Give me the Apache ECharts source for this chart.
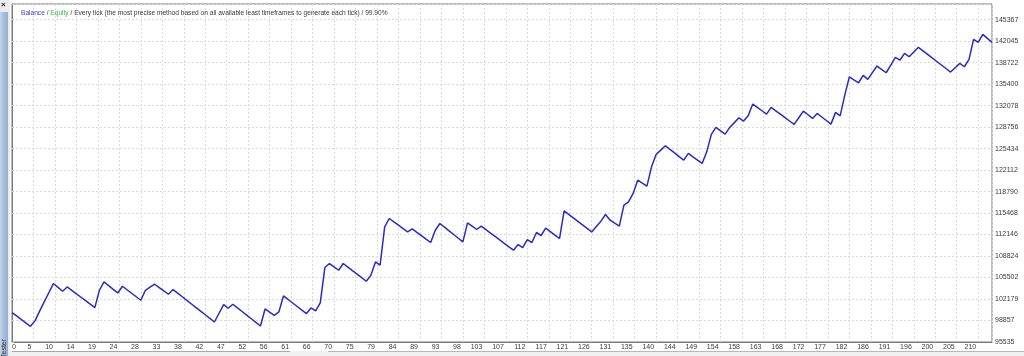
<!DOCTYPE html>
<html>
<head>
<meta charset="utf-8">
<script src="https://cdn.jsdelivr.net/npm/echarts@6/dist/echarts.min.js"></script>
<style>
html,body{margin:0;padding:0;background:#ffffff;}
#chart{width:1024px;height:356px;}
</style>
</head>
<body>
<div id="chart"></div>
<script>
// ---- data ----
const xTickLabels = ['0','5','10','14','19','24','28','33','38','42','47','52','56','61','66','70','75','79','84','89','93','98','103','107','112','117','121','126','131','135','140','144','149','154','158','163','168','172','177','182','186','191','196','200','205','210'];
const yTickLabels = ['95535','98857','102179','105502','108824','112146','115468','118790','122112','125434','128756','132078','135400','138722','142045','145367'];
const balance = [
100084,99560,99020,98490,97964,98800,100300,101750,103150,104572,
103980,103380,104046,103510,102980,102450,101920,101390,100858,103535,
104819,104250,103680,103117,104154,103610,103070,102530,101988,103535,
104000,104464,103950,103430,102916,103643,103085,102530,101970,101415,
100860,100300,99745,99190,98630,99980,101322,100750,101369,100810,
100250,99690,99130,98570,98011,100641,100150,99667,100177,102653,
102110,101565,101020,100475,99930,100796,100332,101570,107048,107667,
107150,106630,107667,107120,106570,106025,105475,104928,105856,107914,
107404,113330,114630,114110,113595,113075,112556,113021,112495,111970,
111440,110916,112819,113856,113285,112720,112150,111580,111009,113949,
113440,112928,113438,112908,112380,111850,111315,110785,110255,109725,
110607,110142,111380,110916,112464,111999,113129,112600,112070,111535,
115806,115265,114720,114180,113640,113095,112556,113390,114212,115249,
114367,113900,113438,116688,117199,118498,120556,120090,119628,122615,
124533,125200,125864,125310,124760,124205,123651,124688,124170,123655,
123141,124936,127628,128711,128190,127675,128711,129450,130197,129686,
130506,132317,131800,131285,130769,131806,131280,130755,130230,129700,
129175,130200,131234,130670,130104,130878,130325,129775,129222,131032,
130506,133709,136541,136075,135613,136758,136139,137170,138197,137680,
137160,138350,139543,139125,140162,139636,140360,141090,140545,140000,
139450,138905,138360,137815,137268,137940,138615,138089,139234,142328,
141864,143102,142480,141864
];
const titleParts = ['Balance', 'Equity', 'Every tick (the most precise method based on all available least timeframes to generate each tick)', '99.90%'];

// ---- axis settings ----
const X_STEP = 14 / 3;          // trades per grid division
const X_MAX = 213;
const Y_BASE = 95535;           // lowest tick value
const Y_STEP = (145367 - 95535) / 15;
const Y_TOP = 147790;           // value at top frame

const FONT = 'Liberation Sans, Arial, sans-serif';
const chart = echarts.init(document.getElementById('chart'), null, {renderer: 'canvas'});

function tickIndex(v, step) {
  const k = Math.round(v / step);
  return Math.abs(v / step - k) < 1e-6 ? k : -1;
}

const option = {
  animation: false,
  backgroundColor: '#ffffff',
  title: {
    left: 16, top: 5,
    text: '{b|' + titleParts[0] + '} / {e|' + titleParts[1] + '} / ' + titleParts[2] + ' / ' + titleParts[3],
    textStyle: {
      fontFamily: FONT, fontSize: 6.6, fontWeight: 'normal', color: '#3a3a3a',
      rich: {
        b: {fontFamily: FONT, fontSize: 6.6, color: '#3b3bd6'},
        e: {fontFamily: FONT, fontSize: 6.6, color: '#2fbf3a'}
      }
    }
  },
  grid: {
    left: 12, right: 32, top: 4, bottom: 14,
    show: true, borderColor: '#7a7a7a', borderWidth: 1,
    backgroundColor: '#ffffff',
    containLabel: false, outerBoundsMode: 'none'
  },
  xAxis: {
    type: 'value', min: 0, max: X_MAX, interval: X_STEP,
    axisLine: {show: true, lineStyle: {color: '#7a7a7a', width: 1}},
    axisTick: {show: false},
    splitLine: {show: true, lineStyle: {color: '#d9d9d9', type: [2, 2], width: 1}},
    axisLabel: {
      margin: 2, fontFamily: FONT, fontSize: 7, color: '#3a3a3a',
      align: 'right', padding: [0, 2, 0, 0], alignMinLabel: 'left',
      showMaxLabel: true, showMinLabel: true,
      formatter: function (v) { const k = tickIndex(v, X_STEP); return k >= 0 && k < xTickLabels.length ? xTickLabels[k] : ''; }
    }
  },
  yAxis: {
    type: 'value', position: 'right', min: 0, max: Y_TOP - Y_BASE, interval: Y_STEP,
    axisLine: {show: true, lineStyle: {color: '#7a7a7a', width: 1}},
    axisTick: {show: true, length: 2, lineStyle: {color: '#cccccc'}},
    splitLine: {show: true, lineStyle: {color: '#d9d9d9', type: [2, 2], width: 1}},
    axisLabel: {
      margin: 3, fontFamily: FONT, fontSize: 7, color: '#3a3a3a',
      showMaxLabel: true, showMinLabel: true,
      formatter: function (v) { const k = tickIndex(v, Y_STEP); return k >= 0 && k < yTickLabels.length ? yTickLabels[k] : ''; }
    }
  },
  series: [{
    type: 'line', name: titleParts[0],
    data: balance.map(function (v, i) { return [i, v - Y_BASE]; }),
    showSymbol: false, symbol: 'none', smooth: false,
    lineStyle: {color: '#2a2ac8', width: 1.5},
    z: 5
  }],
  graphic: [
    {type: 'rect', shape: {x: 0, y: 0, width: 10, height: 356}, style: {fill: '#ececec'}, silent: true},
    {type: 'rect', shape: {x: 0, y: 12, width: 8, height: 344},
     style: {fill: new echarts.graphic.LinearGradient(0, 0, 1, 0, [{offset: 0, color: '#c2d3e8'}, {offset: 0.5, color: '#a6bddb'}, {offset: 1, color: '#93aed2'}])}, silent: true},
    {type: 'text', x: 1, y: 1, style: {text: '×', fontSize: 8, fontWeight: 'bold', fill: '#222', fontFamily: FONT}, silent: true},
    {type: 'text', x: 1, y: 358, rotation: Math.PI / 2, style: {text: 'Tester', fontSize: 7, fill: '#333', fontFamily: FONT}, silent: true},
    {type: 'rect', shape: {x: 10, y: 351, width: 1014, height: 5}, style: {fill: '#f0f0f0'}, silent: true},
    {type: 'line', shape: {x1: 12, y1: 351.5, x2: 290, y2: 351.5}, style: {stroke: '#a8a8a8', lineWidth: 1}, silent: true},
    {type: 'line', shape: {x1: 328, y1: 351.5, x2: 1024, y2: 351.5}, style: {stroke: '#b8b8b8', lineWidth: 1}, silent: true}
  ]
};
chart.setOption(option);
</script>
</body>
</html>
